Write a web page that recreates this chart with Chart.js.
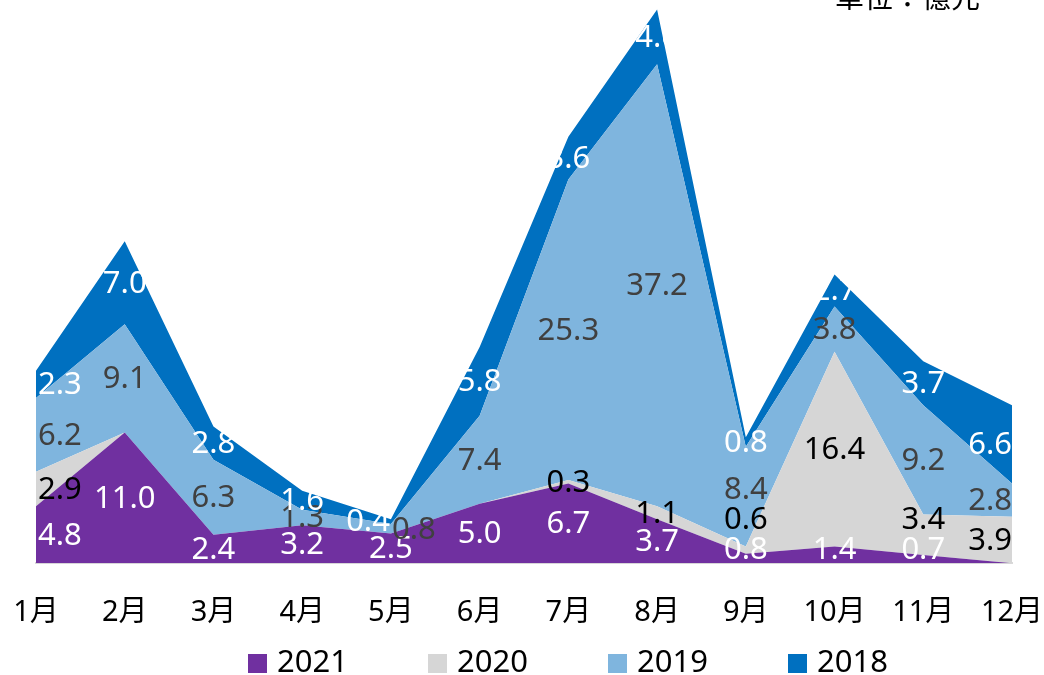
<!DOCTYPE html>
<html>
<head>
<meta charset="utf-8">
<script src="https://cdn.jsdelivr.net/npm/chart.js@4.4.1/dist/chart.umd.min.js"></script>
<style>
  html, body { margin: 0; padding: 0; background: #fff; overflow: hidden; }
  #wrap { position: relative; width: 1044px; height: 675px; }
  #unit { position: absolute; left: 835px; top: -19px; font: 29px "Noto Sans CJK TC", "Noto Sans", sans-serif; line-height: 1; color: #000; white-space: nowrap; }
  .lg-box { position: absolute; width: 19px; height: 19px; top: 654px; }
  .lg-txt { position: absolute; top: 645px; font: 31px "Noto Sans", sans-serif; line-height: 1; color: #000; white-space: nowrap; }
</style>
</head>
<body>
<div id="wrap">
  <canvas id="c" width="1044" height="675"></canvas>
  <div id="unit">單位：億元</div>
</div>
<script>
const months = ["1月","2月","3月","4月","5月","6月","7月","8月","9月","10月","11月","12月"];
const seriesNames = ["2021","2020","2019","2018"];
const v2021 = [4.8, 11.0, 2.4, 3.2, 2.5, 5.0, 6.7, 3.7, 0.8, 1.4, 0.7, 0];
const v2020 = [2.9, 0, 0, 0, 0, 0, 0.3, 1.1, 0.6, 16.4, 3.4, 3.9];
const v2019 = [6.2, 9.1, 6.3, 1.3, 0.8, 7.4, 25.3, 37.2, 8.4, 3.8, 9.2, 2.8];
const v2018 = [2.3, 7.0, 2.8, 1.6, 0.4, 5.8, 3.6, 4.6, 0.8, 2.7, 3.7, 6.6];

const fills = ["#7030A0", "#D6D6D6", "#7FB5DE", "#0070C0"];
const labelColors = ["#FFFFFF", "#000000", "#404040", "#FFFFFF"];
const allValues = [v2021, v2020, v2019, v2018];

const datasets = allValues.map((vals, k) => ({
  label: seriesNames[k],
  data: vals,
  backgroundColor: fills[k],
  borderColor: fills[k],
  borderWidth: 0,
  pointRadius: 0,
  pointHoverRadius: 0,
  tension: 0,
  fill: k === 0 ? 'origin' : '-1'
}));

const labelFont = '31px "Noto Sans", sans-serif';

const areaLabels = {
  id: 'areaLabels',
  afterDatasetsDraw(chart) {
    const ctx = chart.ctx;
    const xs = chart.scales.x, ys = chart.scales.y;
    const area = chart.chartArea;
    ctx.save();
    ctx.font = labelFont;
    ctx.textAlign = 'center';
    ctx.textBaseline = 'middle';
    for (let i = 0; i < months.length; i++) {
      let base = 0;
      const items = [];
      for (let k = 0; k < allValues.length; k++) {
        const v = allValues[k][i];
        if (!v) { continue; }
        const mid = ys.getPixelForValue(base + v / 2);
        base += v;
        const lim = area.bottom - 14;
        const txt = v.toFixed(1);
        const it = { k, txt, w: ctx.measureText(txt).width, x: xs.getPixelForValue(i), y: Math.min(mid, lim), clamped: mid > lim + 0.5 };
        const prev = items[items.length - 1];
        if (prev) {
          const d = prev.y - it.y;
          if (prev.clamped && d < 28) {
            it.y = prev.y - 30;
          } else if (d < 10) {
            prev.x += prev.w / 2 + 1;
            it.x -= it.w / 2 + 1;
          }
        }
        items.push(it);
      }
      items.forEach(it => {
        let cx = Math.max(it.x, area.left + 2 + it.w / 2);
        cx = Math.min(cx, area.right - it.w / 2);
        ctx.fillStyle = labelColors[it.k];
        ctx.fillText(it.txt, cx, it.y + 1);
      });
    }
    ctx.restore();
  }
};

new Chart(document.getElementById('c'), {
  type: 'line',
  data: { labels: months, datasets },
  options: {
    responsive: false,
    animation: false,
    events: [],
    layout: { padding: { left: 36, right: 32, top: 0, bottom: 13 } },
    plugins: { legend: { display: false }, tooltip: { enabled: false } },
    scales: {
      x: {
        offset: false,
        grid: { display: false, drawTicks: false },
        border: { display: true, color: '#D9D9D9', width: 2 },
        ticks: { color: '#000', font: { family: '"Noto Sans", "Noto Sans CJK TC", sans-serif', size: 29 }, padding: 32, maxRotation: 0, autoSkip: false },
        afterFit(scale) { scale.paddingLeft = 0; scale.paddingRight = 0; }
      },
      y: {
        display: false,
        stacked: true,
        min: 0,
        max: 47.4
      }
    }
  },
  plugins: [areaLabels]
});

// legend built from series names and colours
const wrap = document.getElementById('wrap');
seriesNames.forEach((name, k) => {
  const left = 248 + k * 180;
  const b = document.createElement('div');
  b.className = 'lg-box';
  b.style.left = left + 'px';
  b.style.background = fills[k];
  wrap.appendChild(b);
  const t = document.createElement('div');
  t.className = 'lg-txt';
  t.style.left = (left + 29) + 'px';
  t.textContent = name;
  wrap.appendChild(t);
});
</script>
</body>
</html>
